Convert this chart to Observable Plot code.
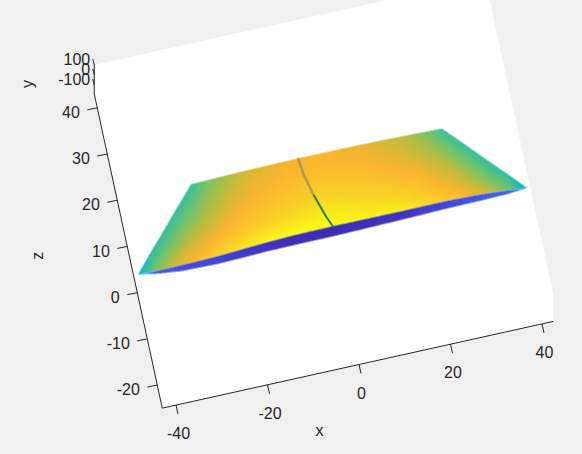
<!DOCTYPE html>
<html><head><meta charset="utf-8">
<style>html,body{margin:0;padding:0;background:#f0f0f0;overflow:hidden}svg{display:block}</style>
<script src="https://cdn.jsdelivr.net/npm/d3@7"></script>
<script src="https://cdn.jsdelivr.net/npm/@observablehq/plot@0.6"></script>
</head><body><div id="chart"></div>
<script>
// Axis limits and ticks
const xLim = [-43, 42.4];
const yLim = [-190, 100];
const zLim = [-25, 43];
const xTicks = [-40, -20, 0, 20, 40];
const yTicks = [-100, 0, 100];
const zTicks = [-20, -10, 0, 10, 20, 30, 40];

// Surface table: rows run from the back edge to the front of the top face
const rowZ = [16.2, 12, 8, 4, 1.5, 0];
const rowLeft = [-27.7, -31.7, -35.4, -39.2, -41.5, -42.84];
const rowRight = [27.15, 31.1, 34.8, 38.6, 40.9, 42.2];
const rowBow = [0.45, 0.4, 0.4, 0.5, 0.7];
const colFrac = [-1, -0.9, -0.78, -0.6, -0.48, -0.35, -0.2, 0, 0.35, 0.6, 0.78, 0.9, 1];
const colBow = [0, 0.19, 0.39, 0.64, 0.77, 0.88, 0.96, 1, 0.88, 0.64, 0.39, 0.19, 0];
const frontEdgeDz = [0, -0.09, -0.07, 0.1, 0.38, 0.7, 0.95, 1.04, 1, 1.05, 0.82, 0.43, 0];
const lipBottomDz = [0, -0.76, -1.3, -1.47, -1.35, -1.15, -1.08, -1.06, -0.78, -0.52, -0.45, -0.32, 0];
const surfaceValues = [
  [.53,.60,.65,.72,.75,.77,.79,.80,.77,.72,.66,.60,.53],
  [.52,.58,.66,.74,.78,.80,.82,.83,.80,.75,.67,.59,.52],
  [.52,.60,.67,.77,.81,.84,.86,.88,.84,.79,.70,.60,.52],
  [.51,.60,.71,.81,.85,.89,.92,.95,.90,.82,.72,.60,.51],
  [.48,.62,.75,.85,.90,.95,.98,.99,.95,.86,.74,.62,.47],
  [.42,.64,.77,.88,.94,.98,1.0,1.0,.98,.88,.76,.62,.40]
];
// The dark lip below the front edge: top and bottom of it
const lipValues = [
  [.30,.14,.09,.07,.05,.03,.02,.01,.03,.08,.12,.15,.28],
  [.30,.14,.10,.08,.06,.04,.03,.02,.04,.09,.13,.15,.28]
];

// The thin streak across the surface: x, z
const streakX = [-4.23, -3.75, -2.57, -1.01, 0];
const streakZ = [16.6, 12.84, 8.25, 3.36, 0.98];

// Parula
const parulaStops = [0, .1, .2, .3, .4, .5, .6, .7, .8, .9, 1];
const parulaColors = ["#3e26a8","#4450e0","#3a80f0","#1f9ee3","#0cb0cc","#28bcac","#6ec46f","#bbbc3e","#fbb52f","#f9d626","#f9fb15"];

// Orthographic view
const origin = [333.5, 248.5];
const P = (x, y, z) => [
  origin[0] + 4.575 * x - z,
  origin[1] - 1.015 * x - 4.62 * z - 0.1 * (y - yLim[0])
];
const pt = (x, y, z, extra) => { const [px, py] = P(x, y, z); return {px, py, ...extra}; };

const surfaceY = -10;
const last = colFrac.length - 1;
const f = rowZ.length - 1;
const grid = surfaceValues.map((row, r) => row.map((v, c) => {
  const mid = (rowLeft[r] + rowRight[r]) / 2, half = (rowRight[r] - rowLeft[r]) / 2;
  const dz = r === f ? frontEdgeDz[c] : rowBow[r] * colBow[c];
  return pt(mid + colFrac[c] * half, surfaceY, rowZ[r] + dz, {v});
}));
const lip = lipValues.map((row, r) => row.map((v, c) => {
  const mid = (rowLeft[f] + rowRight[f]) / 2, half = (rowRight[f] - rowLeft[f]) / 2;
  return pt(mid + colFrac[c] * half, surfaceY, rowZ[f] + (r === 0 ? frontEdgeDz[c] : lipBottomDz[c]), {v});
}));

// Outlines that the two rasters are cut to
const faceOutline = [...grid.map(r => r[0]).reverse(), ...grid[0].slice(1, last), ...grid.map(r => r[last]), ...grid[f].slice(1, last).reverse()];
const lipOutline = [...lip[0], ...lip[1].slice(1, last).reverse()];

function cutRaster(cells, outline) {
  const [x0, x1] = d3.extent(cells, d => d.px);
  const [y0, y1] = d3.extent(cells, d => d.py);
  const bx1 = Math.floor(x0) - 1, bx2 = Math.ceil(x1) + 1, by1 = Math.floor(y0) - 1, by2 = Math.ceil(y1) + 1;
  const bary = Plot.interpolatorBarycentric();
  const interpolate = (I, w, h, X, Y, V) => {
    const F = bary(I, w, h, X, Y, V);
    const kx = w / (bx2 - bx1), ky = h / (by2 - by1);
    const poly = outline.map(d => [(d.px - bx1) * kx, (d.py - by1) * ky]);
    for (let j = 0, i = 0; j < h; ++j) for (let k = 0; k < w; ++k, ++i) {
      if (!d3.polygonContains(poly, [k + 0.5, j + 0.5])) F[i] = NaN;
    }
    return F;
  };
  return Plot.raster(cells, {x: "px", y: "py", fill: "v", interpolate, x1: bx1, x2: bx2, y1: by1, y2: by2, pixelSize: 0.5, imageRendering: "auto"});
}

const wall = [
  pt(xLim[0], yLim[0], zLim[0]), pt(xLim[1], yLim[0], zLim[0]), pt(xLim[1], yLim[1], zLim[0]),
  pt(xLim[1], yLim[1], zLim[1]), pt(xLim[0], yLim[1], zLim[1]), pt(xLim[0], yLim[0], zLim[1])
];
const axisPath = [
  pt(xLim[1], yLim[0], zLim[0]), pt(xLim[0], yLim[0], zLim[0]),
  pt(xLim[0], yLim[0], zLim[1]), pt(xLim[0], yLim[1], zLim[1])
];
const streak = streakX.map((x, i) => pt(x, surfaceY, streakZ[i]));

const xT = xTicks.map(t => pt(t, yLim[0], zLim[0], {t}));
const zT = zTicks.map(t => pt(xLim[0], yLim[0], t, {t}));
const yT = yTicks.map(t => pt(xLim[0], t, zLim[1], {t}));

const ink = "#262626";
const font = {fontFamily: "Liberation Sans, Arial, sans-serif", fontSize: 16, fill: ink};

const chart = Plot.plot({
  width: 582, height: 454,
  margin: 0,
  style: {background: "#f0f0f0"},
  x: {domain: [0, 582], range: [0, 582], axis: null},
  y: {domain: [0, 454], range: [0, 454], axis: null},
  color: {type: "linear", domain: parulaStops, range: parulaColors},
  marks: [
    Plot.line(wall, {x: "px", y: "py", fill: "white", stroke: "none"}),
    cutRaster(grid.flat(), faceOutline),
    cutRaster(lip.flat(), lipOutline),
    Plot.line(streak.slice(0, 3), {x: "px", y: "py", z: null, stroke: "#5f7f74", strokeWidth: 2.6, strokeOpacity: 0.5, strokeDasharray: "1.5 1"}),
    Plot.line(streak.slice(2), {x: "px", y: "py", z: null, stroke: "#1b7a5a", strokeWidth: 2, strokeOpacity: 0.95}),
    Plot.line(axisPath, {x: "px", y: "py", stroke: ink, strokeWidth: 1}),
    Plot.link(xT, {x1: "px", y1: "py", x2: d => d.px + 2, y2: d => d.py + 9, stroke: ink}),
    Plot.link(zT, {x1: "px", y1: "py", x2: d => d.px - 10, y2: d => d.py + 2, stroke: ink}),
    Plot.link(yT, {x1: "px", y1: "py", x2: d => d.px - 1.5, y2: d => d.py - 6, stroke: ink}),
    Plot.text(xT, {x: d => d.px + 2.5, y: d => d.py + 29, text: d => String(d.t), ...font}),
    Plot.text(zT, {x: d => d.px - 17.5, y: d => d.py + 5, text: d => String(d.t), textAnchor: "end", ...font}),
    Plot.text(yT, {x: d => d.px - 4, y: d => d.py - 5, text: d => String(d.t), textAnchor: "end", ...font}),
    Plot.text([pt(-1, yLim[0], zLim[0])], {x: d => d.px - 35, y: d => d.py + 65, text: () => "x", ...font}),
    Plot.text([pt(xLim[0], yLim[0], 8)], {x: d => d.px - 91, y: d => d.py, text: () => "z", rotate: -90, ...font}),
    Plot.text([pt(xLim[0], yLim[1], zLim[1])], {x: d => d.px - 66, y: d => d.py + 19, text: () => "y", rotate: -90, ...font})
  ]
});
document.getElementById("chart").append(chart);
</script></body></html>
